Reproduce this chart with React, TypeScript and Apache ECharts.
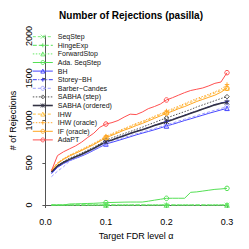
import React, { useEffect, useRef } from "react";
import * as echarts from "echarts";

const alphas = [
  0.01, 0.02, 0.03, 0.04, 0.05, 0.06, 0.07, 0.08, 0.09, 0.1,
  0.11, 0.12, 0.13, 0.14, 0.15, 0.16, 0.17, 0.18, 0.19, 0.2,
  0.21, 0.22, 0.23, 0.24, 0.25, 0.26, 0.27, 0.28, 0.29, 0.3,
];
const markerAlphas = [0.1, 0.2, 0.3];

const seqStep = [0,0,0,0,0,0,0,0,0,0,0,0,0,0,0,0,0,0,0,0,0,0,0,0,0,0,0,0,0,0];
const hingeExp = [0,0,0,0,0,0,0,0,0,0,0,0,0,0,0,0,0,0,0,0,0,0,0,0,0,0,0,0,0,0];
const forwardStop = [0,0,0,0,0,0,0,0,0,0,0,0,0,0,0,0,0,0,0,0,0,0,0,0,0,0,0,0,0,0];
const adaSeqStep = [0,0,0,12,14,16,18,20,24,28,30,32,34,35,35,35,45,57,68,79,80,80,80,150,155,165,175,185,190,197];
const bh = [370,445,490,525,552,580,612,648,685,722,742,763,785,807,830,850,870,890,912,935,955,977,1000,1020,1042,1063,1085,1105,1125,1144];
const storeyBH = [385,458,502,538,568,598,632,668,708,752,773,798,823,848,873,893,918,943,966,990,1013,1038,1063,1088,1113,1138,1163,1188,1208,1223];
const barberCandes = [335,400,453,520,555,585,618,652,690,730,752,775,798,820,843,863,884,905,927,950,970,993,1015,1036,1058,1080,1101,1122,1143,1162];
const sabhaStep = [395,470,515,555,585,615,650,685,725,769,795,820,845,870,895,920,950,975,1005,1030,1055,1080,1105,1130,1160,1185,1210,1235,1260,1282];
const sabhaOrdered = [390,462,505,540,570,600,635,670,710,749,770,795,820,845,870,890,915,940,963,986,1010,1035,1060,1085,1110,1135,1160,1185,1205,1215];
const ihw = [410,495,545,585,618,652,688,722,762,805,835,865,895,925,955,980,1010,1040,1070,1100,1125,1155,1185,1215,1245,1270,1295,1325,1355,1385];
const ihwOracle = [415,500,550,590,625,660,695,730,770,815,845,875,905,935,965,990,1020,1050,1080,1112,1140,1170,1200,1230,1260,1285,1310,1340,1370,1425];
const ifOracle = [405,490,540,580,612,645,680,715,755,797,825,855,885,910,940,965,995,1025,1055,1085,1110,1140,1165,1195,1225,1250,1275,1300,1335,1381];
const adapt = [405,585,630,665,700,745,800,850,920,958,975,1000,1040,1075,1070,1100,1140,1165,1195,1243,1270,1300,1330,1355,1370,1385,1410,1440,1455,1566];

const xTicks = [0, 0.1, 0.2, 0.3];
const yTicks = [0, 500, 1000, 1500, 2000];

const FONT = "Liberation Sans, Arial, Helvetica, sans-serif";
const PLUS = "path://M5,0L5,10M0,5L10,5";
const CROSS = "path://M0,0L10,10M10,0L0,10";
const STAR = "path://M0,0L10,10M10,0L0,10M5,0L5,10";

type Spec = { name: string; values: number[]; color: string; dash: any; symbol: string; width: number };

function spec(name: string, values: number[], color: string, dash: any, symbol: string, width = 1): Spec {
  return { name, values, color, dash, symbol, width };
}

function mk(s: Spec) {
  return {
    name: s.name,
    type: "line",
    data: alphas.map((a, i) => {
      const marked = markerAlphas.some((m) => Math.abs(m - a) < 1e-9);
      return marked ? { value: [a, s.values[i]] } : { value: [a, s.values[i]], symbol: "none" };
    }),
    symbol: s.symbol,
    symbolSize: 4.5,
    showSymbol: true,
    clip: false,
    lineStyle: { color: s.color, width: s.width, type: s.dash },
    itemStyle: { color: "rgba(0,0,0,0)", borderColor: s.color, borderWidth: 1 },
    emphasis: { disabled: true },
    silent: true,
  };
}

export default function App() {
  const ref = useRef<HTMLDivElement>(null);
  useEffect(() => {
    const chart = echarts.init(ref.current!, null, { renderer: "svg" });
    const green = "#55e055";
    const specs: Spec[] = [
      spec("SeqStep", seqStep, "#7aee7a", [3, 2], CROSS),
      spec("HingeExp", hingeExp, green, [4, 2], PLUS),
      spec("ForwardStop", forwardStop, "#66e866", [1.5, 1.5], "triangle"),
      spec("Ada. SeqStep", adaSeqStep, green, "solid", "circle"),
      spec("BH", bh, "#4545ff", "solid", "triangle"),
      spec("Storey\u2212BH", storeyBH, "#3a3aee", [4, 1.5, 1, 1.5], PLUS),
      spec("Barber\u2212Candes", barberCandes, "#a0a0ff", [3, 2], "circle"),
      spec("SABHA (step)", sabhaStep, "#555555", [1.5, 1.5], "diamond"),
      spec("SABHA (ordered)", sabhaOrdered, "#333344", "solid", STAR, 1.6),
      spec("IHW", ihw, "#ffc040", [3, 2], "triangle"),
      spec("IHW (oracle)", ihwOracle, "#ffaa30", [1.5, 1.5], PLUS),
      spec("IF (oracle)", ifOracle, "#ffa520", "solid", "circle"),
      spec("AdaPT", adapt, "#ff5050", "solid", "circle"),
    ];
    const series = specs.map(mk);
    chart.setOption({
      animation: false,
      backgroundColor: "#ffffff",
      textStyle: { fontFamily: FONT },
      graphic: [
        {
          type: "text",
          x: 131,
          y: 15,
          style: {
            text: "Number of Rejections (pasilla)",
            font: `bold 10px ${FONT}`,
            fill: "#000",
            textAlign: "center",
            textVerticalAlign: "middle",
          },
        },
      ],
      grid: { left: 31, right: 22, top: 36, bottom: 44, containLabel: false },
      legend: {
        orient: "vertical",
        left: 32,
        top: 32.4,
        itemWidth: 20,
        itemHeight: 5,
        itemGap: 0,
        padding: 0,
        selectedMode: false,
        textStyle: { fontSize: 7, fontFamily: FONT, color: "#111", lineHeight: 8.6 },
        data: specs.map((s) => ({
          name: s.name,
          itemStyle: { color: "rgba(0,0,0,0)", borderColor: s.color, borderWidth: 0.9 },
          lineStyle: { color: s.color, width: s.width, type: s.dash },
        })),
      },
      xAxis: {
        type: "value",
        min: 0,
        max: 0.3,
        interval: 0.1,
        offset: 8,
        name: "Target FDR level \u03b1",
        nameLocation: "middle",
        nameGap: 15.5,
        nameTextStyle: { fontSize: 9, fontFamily: FONT, color: "#000" },
        axisLine: { show: true, lineStyle: { color: "#555", width: 1 } },
        axisTick: { show: true, length: 3, inside: false, lineStyle: { color: "#555" } },
        axisLabel: {
          fontSize: 9,
          fontFamily: FONT,
          color: "#000",
          margin: 4.2,
          formatter: (v: number) => (xTicks.some((t) => Math.abs(t - v) < 1e-9) ? v.toFixed(1) : ""),
        },
        splitLine: { show: false },
      },
      yAxis: {
        type: "value",
        min: 0,
        max: 2000,
        interval: 500,
        offset: 1.5,
        name: "# of Rejections",
        nameLocation: "middle",
        nameGap: 20,
        nameTextStyle: { fontSize: 9, fontFamily: FONT, color: "#000" },
        axisLine: { show: true, lineStyle: { color: "#555", width: 1 } },
        axisTick: { show: true, length: 3, inside: false, lineStyle: { color: "#555" } },
        axisLabel: {
          fontSize: 9,
          fontFamily: FONT,
          color: "#000",
          rotate: 90,
          margin: 10,
          formatter: (v: number) => (yTicks.includes(v) ? String(v) : ""),
        },
        splitLine: { show: false },
      },
      series,
    });
    return () => chart.dispose();
  }, []);
  return (
    <div
      ref={ref}
      style={{ position: "fixed", left: 0, top: 0, width: 249, height: 249 }}
    />
  );
}
